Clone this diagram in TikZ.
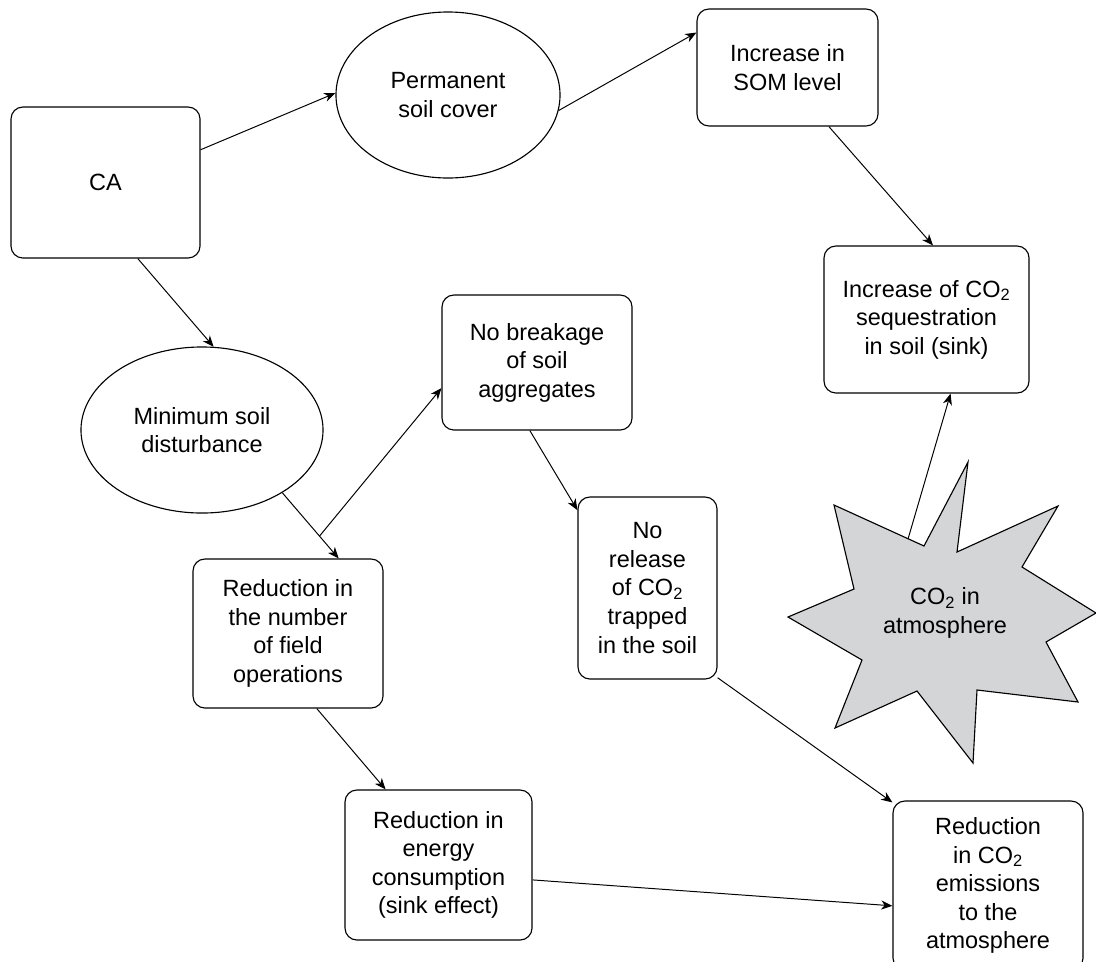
\documentclass[tikz,border=0pt]{standalone}
\usepackage{fontspec}
\setmainfont{Liberation Sans}
\usetikzlibrary{arrows.meta, shapes.geometric}
\definecolor{stargray}{RGB}{212,213,215}

\begin{document}
\begin{tikzpicture}[x=0.025cm, y=-0.025cm, font=\fontsize{16.7}{20.3}\selectfont,
  box/.style={draw, rounded corners=0.3cm, align=center, inner sep=0pt, line width=0.8pt},
  oval/.style={draw, ellipse, align=center, inner sep=0pt, line width=0.8pt},
  link/.style={-{Stealth[length=8pt,width=6.5pt,inset=2.5pt]}, line width=0.7pt}]

\useasboundingbox (0,0) rectangle (1096,961);

\node[box, minimum width=4.725cm, minimum height=3.775cm] (ca) at (105.5,182.5) {CA};
\node[oval, minimum width=5.6cm, minimum height=4.15cm] (perm) at (448,95) {Permanent\\soil cover};
\node[box, minimum width=4.525cm, minimum height=2.925cm] (som) at (787.5,67.5) {Increase in\\SOM level};
\node[box, minimum width=5.125cm, minimum height=3.675cm] (seq) at (926.5,319.5) {Increase of CO\textsubscript{2}\\sequestration\\in soil (sink)};
\node[oval, minimum width=6.05cm, minimum height=4.15cm] (minsoil) at (202,430) {Minimum soil\\disturbance};
\node[box, minimum width=4.75cm, minimum height=3.375cm] (nobreak) at (537,362.5) {No breakage\\of soil\\aggregates};
\node[box, minimum width=4.75cm, minimum height=3.725cm] (fieldops) at (288,633.5) {Reduction in\\the number\\of field\\operations};
\node[box, minimum width=3.475cm, minimum height=4.55cm] (norelease) at (647.5,588) {No\\release\\of CO\textsubscript{2}\\trapped\\in the soil};
\node[box, minimum width=4.675cm, minimum height=3.75cm] (energy) at (438.5,865) {Reduction in\\energy\\consumption\\(sink effect)};
\node[box, minimum width=4.75cm, minimum height=4.225cm] (co2red) at (988,885.5) {Reduction\\in CO\textsubscript{2}\\emissions\\to the\\atmosphere};

\draw[fill=stargray, line width=0.8pt] (788,617) -- (854,589) -- (834,505) -- (924,546) -- (968,462)
  -- (957,552) -- (1058,506) -- (1022,567) -- (1096,613) -- (1046,642) -- (1078,702)
  -- (977,690) -- (973,763) -- (917,691) -- (835,728) -- (862,660) -- cycle;
\node[align=center] (atm) at (945,613) {CO\textsubscript{2} in\\atmosphere};
\coordinate (atmtip) at (908,539);

\draw[link] (ca.19) -- (perm.179);
\draw[link] (perm.-8) -- (som.159);
\draw[link] (som.-55) -- (seq.85);
\draw[link] (ca.-67) -- (minsoil.82);
\draw[link] (minsoil.-38) -- coordinate[pos=0.66] (fork) (fieldops.56);
\draw[link] (fork) -- (nobreak.195);
\draw[link] (nobreak.-96) -- (norelease.132);
\draw[link] (norelease.-52) -- (co2red.139);
\draw[link] (fieldops.-69) -- (energy.125);
\draw[link] (energy.-9) -- (co2red.192);
\draw[link] (atmtip) -- (seq.-72);

\end{tikzpicture}
\end{document}
